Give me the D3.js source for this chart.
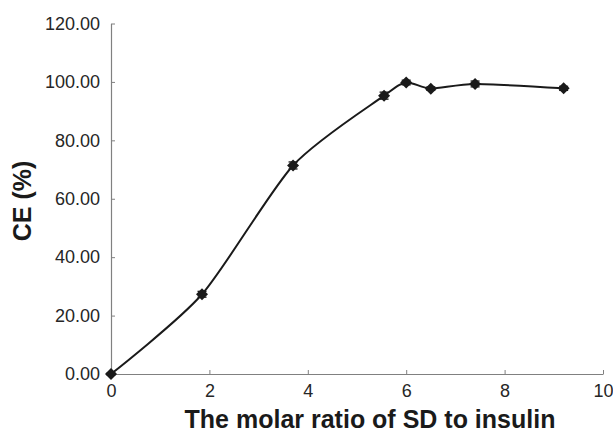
<!DOCTYPE html>
<html><head><meta charset="utf-8">
<script src="https://cdn.jsdelivr.net/npm/d3@7"></script>
<style>body{margin:0;background:#fff}svg{display:block}</style>
</head><body>
<svg id="c" width="613" height="432"></svg>
<script>
const ratios = [0, 1.85, 3.7, 5.55, 6.0, 6.5, 7.4, 9.2];
const ceValues = [0, 27.3, 71.4, 95.3, 99.8, 97.7, 99.3, 97.8];
const ceErrors = [0.3, 1.0, 1.2, 1.2, 0.8, 0.6, 1.0, 0.7];
const xTicks = [0, 2, 4, 6, 8, 10];
const yTicks = [0, 20, 40, 60, 80, 100, 120];

const svg = d3.select("#c");
const x = d3.scaleLinear().domain([0, 10]).range([111, 603]);
const y = d3.scaleLinear().domain([0, 120]).range([374, 23.5]);
const axisColor = "#808080";
const font = "'Liberation Sans', Arial, sans-serif";

const xa = svg.append("g").attr("transform", `translate(0,${y(0)})`)
  .call(d3.axisBottom(x).tickValues(xTicks).tickSize(0).tickPadding(10).tickFormat(d3.format("d")));
xa.select(".domain").attr("stroke", axisColor).attr("stroke-width", 1.2);
xa.selectAll(".tick line").remove();
xa.selectAll(".tick").append("line").attr("y1", 0).attr("y2", -4).attr("stroke", axisColor);
xa.selectAll("text").attr("font-family", font).attr("font-size", 18).attr("fill", "#262626");

const ya = svg.append("g").attr("transform", `translate(${x(0)},0)`)
  .call(d3.axisLeft(y).tickValues(yTicks).tickSize(0).tickPadding(11).tickFormat(d3.format(".2f")));
ya.select(".domain").attr("stroke", axisColor).attr("stroke-width", 1.2);
ya.selectAll(".tick line").remove();
ya.selectAll(".tick").append("line").attr("x1", 0).attr("x2", 4).attr("stroke", axisColor);
ya.selectAll("text").attr("font-family", font).attr("font-size", 18).attr("fill", "#262626");

const data = ratios.map((r, i) => ({x: r, y: ceValues[i], e: ceErrors[i]}));

svg.append("path").datum(data)
  .attr("d", d3.line().x(d => x(d.x)).y(d => y(d.y)).curve(d3.curveCardinal.tension(0.25)))
  .attr("fill", "none").attr("stroke", "#1a1a1a").attr("stroke-width", 2);

const eb = svg.append("g").attr("stroke", "#1a1a1a").attr("stroke-width", 1.3);
data.forEach(d => {
  eb.append("line").attr("x1", x(d.x)).attr("x2", x(d.x)).attr("y1", y(d.y - d.e)).attr("y2", y(d.y + d.e));
  [d.y - d.e, d.y + d.e].forEach(v => eb.append("line").attr("x1", x(d.x) - 4.5).attr("x2", x(d.x) + 4.5).attr("y1", y(v)).attr("y2", y(v)));
});

svg.append("g").selectAll("path").data(data).join("path")
  .attr("transform", d => `translate(${x(d.x)},${y(d.y)})`)
  .attr("d", "M0,-6L6,0L0,6L-6,0Z").attr("fill", "#1a1a1a");

svg.append("text").attr("x", 370).attr("y", 428).attr("text-anchor", "middle")
  .attr("font-family", font).attr("font-weight", "bold").attr("font-size", 25).attr("fill", "#1a1a1a")
  .text("The molar ratio of SD to insulin");
svg.append("text").attr("transform", "translate(31,201) rotate(-90)").attr("text-anchor", "middle")
  .attr("font-family", font).attr("font-weight", "bold").attr("font-size", 25).attr("fill", "#1a1a1a")
  .text("CE (%)");
</script>
</body></html>
